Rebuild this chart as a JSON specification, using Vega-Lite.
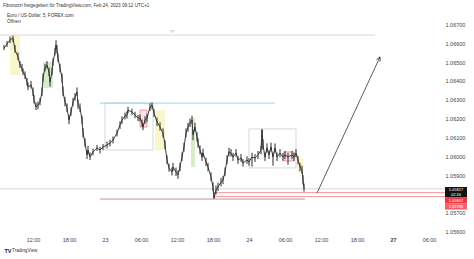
{
  "$schema": "https://vega.github.io/schema/vega-lite/v6.json",
  "width": 440,
  "height": 222,
  "autosize": {"type": "none"},
  "padding": {"left": 0, "top": 12, "right": 34, "bottom": 25},
  "background": "#ffffff",
  "config": {"view": {"stroke": null}, "font": "Liberation Sans"},
  "title": {"text": "Fibonozzi freigegeben für TradingView.com, Feb 24, 2023 09:12 UTC+1", "anchor": "start", "frame": "group", "fontSize": 4.6, "fontWeight": "normal", "color": "#333333", "offset": 4, "dx": 3},
  "resolve": {"scale": {"color": "independent"}},
  "datasets": {
    "candles": [
      {"t":"2023-02-22T07:10Z","hi":1.06590,"lo":1.06563,"p":1.06574},
      {"t":"2023-02-22T07:40Z","hi":1.06612,"lo":1.06580,"p":1.06595},
      {"t":"2023-02-22T08:10Z","hi":1.06635,"lo":1.06600,"p":1.06617},
      {"t":"2023-02-22T08:40Z","hi":1.06640,"lo":1.06605,"p":1.06627},
      {"t":"2023-02-22T09:00Z","hi":1.06590,"lo":1.06548,"p":1.06564},
      {"t":"2023-02-22T09:30Z","hi":1.06550,"lo":1.06510,"p":1.06527},
      {"t":"2023-02-22T09:50Z","hi":1.06505,"lo":1.06468,"p":1.06484},
      {"t":"2023-02-22T10:10Z","hi":1.06490,"lo":1.06450,"p":1.06468},
      {"t":"2023-02-22T10:20Z","hi":1.06465,"lo":1.06430,"p":1.06447},
      {"t":"2023-02-22T10:40Z","hi":1.06450,"lo":1.06410,"p":1.06431},
      {"t":"2023-02-22T11:00Z","hi":1.06415,"lo":1.06375,"p":1.06394},
      {"t":"2023-02-22T11:10Z","hi":1.06390,"lo":1.06350,"p":1.06367},
      {"t":"2023-02-22T11:40Z","hi":1.06400,"lo":1.06360,"p":1.06378},
      {"t":"2023-02-22T12:00Z","hi":1.06365,"lo":1.06320,"p":1.06341},
      {"t":"2023-02-22T12:10Z","hi":1.06325,"lo":1.06280,"p":1.06298},
      {"t":"2023-02-22T12:30Z","hi":1.06285,"lo":1.06245,"p":1.06261},
      {"t":"2023-02-22T12:50Z","hi":1.06290,"lo":1.06250,"p":1.06272},
      {"t":"2023-02-22T13:10Z","hi":1.06310,"lo":1.06270,"p":1.06288},
      {"t":"2023-02-22T13:30Z","hi":1.06365,"lo":1.06320,"p":1.06341},
      {"t":"2023-02-22T13:40Z","hi":1.06440,"lo":1.06395,"p":1.06415},
      {"t":"2023-02-22T14:00Z","hi":1.06490,"lo":1.06450,"p":1.06468},
      {"t":"2023-02-22T14:20Z","hi":1.06505,"lo":1.06465,"p":1.06484},
      {"t":"2023-02-22T14:40Z","hi":1.06470,"lo":1.06425,"p":1.06447},
      {"t":"2023-02-22T14:50Z","hi":1.06420,"lo":1.06370,"p":1.06394},
      {"t":"2023-02-22T15:10Z","hi":1.06470,"lo":1.06430,"p":1.06447},
      {"t":"2023-02-22T15:20Z","hi":1.06520,"lo":1.06480,"p":1.06500},
      {"t":"2023-02-22T15:40Z","hi":1.06575,"lo":1.06535,"p":1.06553},
      {"t":"2023-02-22T15:50Z","hi":1.06615,"lo":1.06570,"p":1.06590},
      {"t":"2023-02-22T16:00Z","hi":1.06590,"lo":1.06545,"p":1.06564},
      {"t":"2023-02-22T16:10Z","hi":1.06545,"lo":1.06500,"p":1.06521},
      {"t":"2023-02-22T16:30Z","hi":1.06490,"lo":1.06445,"p":1.06468},
      {"t":"2023-02-22T16:50Z","hi":1.06440,"lo":1.06390,"p":1.06415},
      {"t":"2023-02-22T17:00Z","hi":1.06370,"lo":1.06320,"p":1.06341},
      {"t":"2023-02-22T17:20Z","hi":1.06315,"lo":1.06265,"p":1.06288},
      {"t":"2023-02-22T17:40Z","hi":1.06280,"lo":1.06235,"p":1.06256},
      {"t":"2023-02-22T18:00Z","hi":1.06220,"lo":1.06170,"p":1.06192},
      {"t":"2023-02-22T18:20Z","hi":1.06260,"lo":1.06215,"p":1.06235},
      {"t":"2023-02-22T18:40Z","hi":1.06310,"lo":1.06265,"p":1.06288},
      {"t":"2023-02-22T19:00Z","hi":1.06335,"lo":1.06295,"p":1.06314},
      {"t":"2023-02-22T19:20Z","hi":1.06365,"lo":1.06320,"p":1.06341},
      {"t":"2023-02-22T19:30Z","hi":1.06300,"lo":1.06250,"p":1.06272},
      {"t":"2023-02-22T19:50Z","hi":1.06280,"lo":1.06235,"p":1.06256},
      {"t":"2023-02-22T20:10Z","hi":1.06215,"lo":1.06170,"p":1.06192},
      {"t":"2023-02-22T20:20Z","hi":1.06150,"lo":1.06100,"p":1.06123},
      {"t":"2023-02-22T20:40Z","hi":1.06095,"lo":1.06050,"p":1.06070},
      {"t":"2023-02-22T21:00Z","hi":1.06030,"lo":1.05985,"p":1.06007},
      {"t":"2023-02-22T21:10Z","hi":1.06055,"lo":1.06010,"p":1.06033},
      {"t":"2023-02-22T21:30Z","hi":1.06020,"lo":1.05980,"p":1.05996},
      {"t":"2023-02-22T22:00Z","hi":1.06040,"lo":1.06005,"p":1.06023},
      {"t":"2023-02-22T22:40Z","hi":1.06060,"lo":1.06028,"p":1.06044},
      {"t":"2023-02-22T23:10Z","hi":1.06050,"lo":1.06015,"p":1.06033},
      {"t":"2023-02-22T23:40Z","hi":1.06065,"lo":1.06032,"p":1.06049},
      {"t":"2023-02-23T00:20Z","hi":1.06078,"lo":1.06042,"p":1.06060},
      {"t":"2023-02-23T00:50Z","hi":1.06088,"lo":1.06052,"p":1.06070},
      {"t":"2023-02-23T01:20Z","hi":1.06105,"lo":1.06068,"p":1.06086},
      {"t":"2023-02-23T02:00Z","hi":1.06142,"lo":1.06105,"p":1.06123},
      {"t":"2023-02-23T02:30Z","hi":1.06185,"lo":1.06145,"p":1.06166},
      {"t":"2023-02-23T02:50Z","hi":1.06212,"lo":1.06172,"p":1.06192},
      {"t":"2023-02-23T03:20Z","hi":1.06232,"lo":1.06195,"p":1.06214},
      {"t":"2023-02-23T03:40Z","hi":1.06238,"lo":1.06200,"p":1.06219},
      {"t":"2023-02-23T03:50Z","hi":1.06262,"lo":1.06228,"p":1.06245},
      {"t":"2023-02-23T04:30Z","hi":1.06252,"lo":1.06218,"p":1.06235},
      {"t":"2023-02-23T05:00Z","hi":1.06236,"lo":1.06202,"p":1.06219},
      {"t":"2023-02-23T05:30Z","hi":1.06220,"lo":1.06186,"p":1.06203},
      {"t":"2023-02-23T05:50Z","hi":1.06222,"lo":1.06185,"p":1.06203},
      {"t":"2023-02-23T06:10Z","hi":1.06195,"lo":1.06158,"p":1.06176},
      {"t":"2023-02-23T06:20Z","hi":1.06175,"lo":1.06138,"p":1.06155},
      {"t":"2023-02-23T06:40Z","hi":1.06212,"lo":1.06172,"p":1.06192},
      {"t":"2023-02-23T07:00Z","hi":1.06225,"lo":1.06182,"p":1.06203},
      {"t":"2023-02-23T07:30Z","hi":1.06280,"lo":1.06240,"p":1.06261},
      {"t":"2023-02-23T07:50Z","hi":1.06285,"lo":1.06250,"p":1.06272},
      {"t":"2023-02-23T08:10Z","hi":1.06250,"lo":1.06208,"p":1.06229},
      {"t":"2023-02-23T08:40Z","hi":1.06205,"lo":1.06160,"p":1.06182},
      {"t":"2023-02-23T09:10Z","hi":1.06180,"lo":1.06135,"p":1.06155},
      {"t":"2023-02-23T09:40Z","hi":1.06148,"lo":1.06100,"p":1.06123},
      {"t":"2023-02-23T10:00Z","hi":1.06085,"lo":1.06038,"p":1.06060},
      {"t":"2023-02-23T10:20Z","hi":1.06005,"lo":1.05958,"p":1.05980},
      {"t":"2023-02-23T10:40Z","hi":1.05960,"lo":1.05918,"p":1.05938},
      {"t":"2023-02-23T11:10Z","hi":1.05940,"lo":1.05898,"p":1.05917},
      {"t":"2023-02-23T11:20Z","hi":1.05965,"lo":1.05922,"p":1.05943},
      {"t":"2023-02-23T11:50Z","hi":1.05940,"lo":1.05895,"p":1.05917},
      {"t":"2023-02-23T12:10Z","hi":1.05925,"lo":1.05880,"p":1.05901},
      {"t":"2023-02-23T12:30Z","hi":1.05965,"lo":1.05920,"p":1.05943},
      {"t":"2023-02-23T12:50Z","hi":1.06020,"lo":1.05975,"p":1.05996},
      {"t":"2023-02-23T13:10Z","hi":1.06072,"lo":1.06025,"p":1.06049},
      {"t":"2023-02-23T13:30Z","hi":1.06148,"lo":1.06100,"p":1.06123},
      {"t":"2023-02-23T13:50Z","hi":1.06178,"lo":1.06130,"p":1.06155},
      {"t":"2023-02-23T14:10Z","hi":1.06200,"lo":1.06155,"p":1.06176},
      {"t":"2023-02-23T14:30Z","hi":1.06215,"lo":1.06170,"p":1.06192},
      {"t":"2023-02-23T14:40Z","hi":1.06140,"lo":1.06085,"p":1.06113},
      {"t":"2023-02-23T15:00Z","hi":1.06178,"lo":1.06130,"p":1.06155},
      {"t":"2023-02-23T15:20Z","hi":1.06128,"lo":1.06078,"p":1.06102},
      {"t":"2023-02-23T15:30Z","hi":1.06095,"lo":1.06045,"p":1.06070},
      {"t":"2023-02-23T15:50Z","hi":1.06058,"lo":1.06010,"p":1.06033},
      {"t":"2023-02-23T16:10Z","hi":1.06020,"lo":1.05975,"p":1.05996},
      {"t":"2023-02-23T16:20Z","hi":1.06040,"lo":1.05995,"p":1.06017},
      {"t":"2023-02-23T16:50Z","hi":1.05992,"lo":1.05948,"p":1.05970},
      {"t":"2023-02-23T17:10Z","hi":1.05965,"lo":1.05920,"p":1.05943},
      {"t":"2023-02-23T17:40Z","hi":1.05915,"lo":1.05868,"p":1.05890},
      {"t":"2023-02-23T18:00Z","hi":1.05862,"lo":1.05815,"p":1.05837},
      {"t":"2023-02-23T18:10Z","hi":1.05810,"lo":1.05774,"p":1.05779},
      {"t":"2023-02-23T18:30Z","hi":1.05845,"lo":1.05798,"p":1.05821},
      {"t":"2023-02-23T18:50Z","hi":1.05860,"lo":1.05815,"p":1.05837},
      {"t":"2023-02-23T19:20Z","hi":1.05885,"lo":1.05840,"p":1.05863},
      {"t":"2023-02-23T19:40Z","hi":1.05895,"lo":1.05852,"p":1.05874},
      {"t":"2023-02-23T20:00Z","hi":1.05940,"lo":1.05895,"p":1.05917},
      {"t":"2023-02-23T20:20Z","hi":1.06005,"lo":1.05958,"p":1.05980},
      {"t":"2023-02-23T20:40Z","hi":1.06045,"lo":1.06000,"p":1.06023},
      {"t":"2023-02-23T21:00Z","hi":1.06038,"lo":1.05998,"p":1.06017},
      {"t":"2023-02-23T21:20Z","hi":1.06018,"lo":1.05975,"p":1.05996},
      {"t":"2023-02-23T21:50Z","hi":1.06038,"lo":1.05998,"p":1.06017},
      {"t":"2023-02-23T22:10Z","hi":1.06002,"lo":1.05960,"p":1.05980},
      {"t":"2023-02-23T22:40Z","hi":1.06012,"lo":1.05970,"p":1.05991},
      {"t":"2023-02-23T23:00Z","hi":1.05985,"lo":1.05945,"p":1.05964},
      {"t":"2023-02-23T23:40Z","hi":1.06000,"lo":1.05960,"p":1.05980},
      {"t":"2023-02-24T00:00Z","hi":1.05990,"lo":1.05950,"p":1.05970},
      {"t":"2023-02-24T00:30Z","hi":1.06018,"lo":1.05945,"p":1.05996},
      {"t":"2023-02-24T01:00Z","hi":1.06012,"lo":1.05970,"p":1.05991},
      {"t":"2023-02-24T01:30Z","hi":1.06028,"lo":1.05985,"p":1.06007},
      {"t":"2023-02-24T02:00Z","hi":1.06055,"lo":1.06010,"p":1.06033},
      {"t":"2023-02-24T02:10Z","hi":1.06145,"lo":1.06040,"p":1.06139},
      {"t":"2023-02-24T02:20Z","hi":1.06090,"lo":1.06035,"p":1.06060},
      {"t":"2023-02-24T02:40Z","hi":1.06020,"lo":1.05975,"p":1.05996},
      {"t":"2023-02-24T03:00Z","hi":1.06068,"lo":1.06020,"p":1.06044},
      {"t":"2023-02-24T03:20Z","hi":1.06030,"lo":1.05985,"p":1.06007},
      {"t":"2023-02-24T03:40Z","hi":1.06072,"lo":1.06025,"p":1.06049},
      {"t":"2023-02-24T04:00Z","hi":1.06020,"lo":1.05950,"p":1.05996},
      {"t":"2023-02-24T04:20Z","hi":1.06068,"lo":1.06020,"p":1.06044},
      {"t":"2023-02-24T04:40Z","hi":1.06020,"lo":1.05975,"p":1.05996},
      {"t":"2023-02-24T05:10Z","hi":1.06038,"lo":1.05995,"p":1.06017},
      {"t":"2023-02-24T05:40Z","hi":1.06018,"lo":1.05975,"p":1.05996},
      {"t":"2023-02-24T06:00Z","hi":1.06028,"lo":1.05985,"p":1.06007},
      {"t":"2023-02-24T06:30Z","hi":1.06018,"lo":1.05955,"p":1.05996},
      {"t":"2023-02-24T07:10Z","hi":1.06028,"lo":1.05985,"p":1.06007},
      {"t":"2023-02-24T07:30Z","hi":1.06018,"lo":1.05975,"p":1.05996},
      {"t":"2023-02-24T07:50Z","hi":1.06038,"lo":1.05995,"p":1.06017},
      {"t":"2023-02-24T08:10Z","hi":1.06002,"lo":1.05958,"p":1.05980},
      {"t":"2023-02-24T08:30Z","hi":1.05965,"lo":1.05920,"p":1.05943},
      {"t":"2023-02-24T08:50Z","hi":1.05950,"lo":1.05905,"p":1.05927},
      {"t":"2023-02-24T09:00Z","hi":1.05900,"lo":1.05850,"p":1.05874},
      {"t":"2023-02-24T09:10Z","hi":1.05855,"lo":1.05812,"p":1.05827}
    ],
    "highlights": [
      {"t":"2023-02-22T08:10Z","t2":"2023-02-22T09:50Z","p":1.06638,"p2":1.06431,"kind":"yellow"},
      {"t":"2023-02-22T13:40Z","t2":"2023-02-22T15:20Z","p":1.06500,"p2":1.06362,"kind":"green"},
      {"t":"2023-02-23T08:20Z","t2":"2023-02-23T10:00Z","p":1.06245,"p2":1.06033,"kind":"yellow"},
      {"t":"2023-02-23T14:20Z","t2":"2023-02-23T15:00Z","p":1.06203,"p2":1.05943,"kind":"green"},
      {"t":"2023-02-24T08:00Z","t2":"2023-02-24T09:00Z","p":1.05991,"p2":1.05917,"kind":"yellow"}
    ],
    "ranges": [
      {"t":"2023-02-23T00:00Z","t2":"2023-02-23T08:00Z","p":1.06282,"p2":1.06033},
      {"t":"2023-02-24T00:00Z","t2":"2023-02-24T07:50Z","p":1.06145,"p2":1.05938}
    ],
    "redboxes": [
      {"t":"2023-02-23T05:50Z","t2":"2023-02-23T07:00Z","p":1.06245,"p2":1.06155},
      {"t":"2023-02-24T05:50Z","t2":"2023-02-24T07:30Z","p":1.06023,"p2":1.05975}
    ],
    "hlines": [
      {"t":"2023-02-22T06:30Z","t2":"2023-02-24T21:00Z","p":1.06643,"kind":"tp"},
      {"t":"2023-02-22T23:10Z","t2":"2023-02-24T04:20Z","p":1.06282,"kind":"blue"},
      {"t":"2023-02-22T06:30Z","t2":"2023-02-25T08:40Z","p":1.05827,"kind":"last"},
      {"t":"2023-02-22T23:10Z","t2":"2023-02-24T09:20Z","p":1.05773,"kind":"purple"},
      {"t":"2023-02-23T18:20Z","t2":"2023-02-25T08:40Z","p":1.05807,"kind":"red"},
      {"t":"2023-02-23T18:20Z","t2":"2023-02-25T08:40Z","p":1.05786,"kind":"red"}
    ],
    "arrow": [
      {"t":"2023-02-24T11:20Z","p":1.05805},
      {"t":"2023-02-24T21:50Z","p":1.06527}
    ],
    "arrowhead": [
      {"t":"2023-02-24T21:50Z","p":1.06527}
    ],
    "tags": [
      {"t":"2023-02-25T08:40Z","t2":"2023-02-25T12:20Z","p":1.05837,"p2":1.05781,"kind":"black"},
      {"t":"2023-02-25T08:40Z","t2":"2023-02-25T12:20Z","p":1.05781,"p2":1.05749,"kind":"red"},
      {"t":"2023-02-25T08:40Z","t2":"2023-02-25T12:20Z","p":1.05749,"p2":1.05717,"kind":"pink"}
    ],
    "tagtext": [
      {"t":"2023-02-25T10:30Z","p":1.05823,"label":"1.05827"},
      {"t":"2023-02-25T10:30Z","p":1.05794,"label":"02:16"},
      {"t":"2023-02-25T10:30Z","p":1.05765,"label":"1.05807"},
      {"t":"2023-02-25T10:30Z","p":1.05733,"label":"1.05786"}
    ],
    "notes": [
      {"t":"2023-02-22T07:40Z","p":1.06744,"label":"Euro / US-Dollar, 5, FOREX.com"},
      {"t":"2023-02-22T07:40Z","p":1.06710,"label":"Öffnen"},
      {"t":"2023-02-22T08:30Z","p":1.05495,"label":"TradingView"}
    ],
    "tplabel": [
      {"t":"2023-02-23T11:10Z","p":1.06657,"label":"TP"}
    ],
    "logo": [
      {"t":"2023-02-22T07:15Z","p":1.05495,"label":"TV"}
    ]
  },
  "encoding": {
    "x": {
      "field": "t", "type": "temporal",
      "scale": {"type": "utc", "domain": [{"year":2023,"month":2,"date":22,"hours":6,"minutes":30,"utc":true},{"year":2023,"month":2,"date":25,"hours":7,"minutes":50,"utc":true}]},
      "axis": {
        "title": null, "ticks": false, "domain": false, "grid": false,
        "values": [
          {"year":2023,"month":2,"date":22,"hours":12,"utc":true},
          {"year":2023,"month":2,"date":22,"hours":18,"utc":true},
          {"year":2023,"month":2,"date":23,"hours":0,"utc":true},
          {"year":2023,"month":2,"date":23,"hours":6,"utc":true},
          {"year":2023,"month":2,"date":23,"hours":12,"utc":true},
          {"year":2023,"month":2,"date":23,"hours":18,"utc":true},
          {"year":2023,"month":2,"date":24,"hours":0,"utc":true},
          {"year":2023,"month":2,"date":24,"hours":6,"utc":true},
          {"year":2023,"month":2,"date":24,"hours":12,"utc":true},
          {"year":2023,"month":2,"date":24,"hours":18,"utc":true},
          {"year":2023,"month":2,"date":25,"hours":0,"utc":true},
          {"year":2023,"month":2,"date":25,"hours":6,"utc":true}
        ],
        "labelExpr": "utchours(datum.value) == 0 ? (utcdate(datum.value) == 25 ? '27' : utcFormat(datum.value, '%-d')) : utcFormat(datum.value, '%H:%M')",
        "labelFontSize": 5.5, "labelColor": "#444444", "labelPadding": 3, "labelFlush": false, "labelOverlap": false,
        "labelFontWeight": {"condition": {"test": "utcdate(datum.value) == 25 && utchours(datum.value) == 0", "value": "bold"}, "value": "normal"}
      }
    },
    "y": {
      "field": "p", "type": "quantitative",
      "scale": {"domain": [1.055875, 1.067653], "nice": false, "zero": false},
      "axis": {
        "orient": "right", "title": null, "ticks": false, "domain": false, "grid": false,
        "values": [1.056, 1.057, 1.059, 1.06, 1.061, 1.062, 1.063, 1.064, 1.065, 1.066, 1.067],
        "format": ".5f", "labelFontSize": 5.5, "labelColor": "#444444", "labelPadding": 5
      }
    }
  },
  "layer": [
    {
      "data": {"name": "highlights"},
      "mark": {"type": "rect", "opacity": 0.35},
      "encoding": {
        "x2": {"field": "t2"}, "y2": {"field": "p2"},
        "color": {"field": "kind", "type": "nominal", "scale": {"domain": ["yellow", "green"], "range": ["#f3e36b", "#8fc56a"]}, "legend": null}
      }
    },
    {
      "data": {"name": "ranges"},
      "mark": {"type": "rect", "fillOpacity": 0, "stroke": "#bdbdbd", "strokeWidth": 0.6},
      "encoding": {"x2": {"field": "t2"}, "y2": {"field": "p2"}}
    },
    {
      "data": {"name": "redboxes"},
      "mark": {"type": "rect", "fill": "#f7c6cc", "fillOpacity": 0.5, "stroke": "#e06a76", "strokeWidth": 0.6},
      "encoding": {"x2": {"field": "t2"}, "y2": {"field": "p2"}}
    },
    {
      "data": {"name": "hlines"},
      "mark": {"type": "rule", "strokeWidth": 0.8},
      "encoding": {
        "x2": {"field": "t2"},
        "color": {"field": "kind", "type": "nominal", "scale": {"domain": ["tp", "blue", "last", "purple", "red"], "range": ["#cccccc", "#7ccde6", "#c9c9c9", "#b3708e", "#f07c86"]}, "legend": null}
      }
    },
    {
      "data": {"name": "candles"},
      "mark": {"type": "rule", "color": "#2b2b2b", "strokeWidth": 1},
      "encoding": {"y": {"field": "hi", "type": "quantitative", "title": null}, "y2": {"field": "lo"}}
    },
    {
      "data": {"name": "candles"},
      "mark": {"type": "line", "color": "#2b2b2b", "strokeWidth": 0.9}
    },
    {
      "data": {"name": "arrow"},
      "mark": {"type": "line", "color": "#333333", "strokeWidth": 0.8},
      "encoding": {}
    },
    {
      "data": {"name": "arrowhead"},
      "mark": {"type": "point", "shape": "M -0.5 1 L 0 0 L 0.5 1", "angle": 25, "size": 64, "filled": false, "stroke": "#333333", "strokeWidth": 0.8, "opacity": 1}
    },
    {
      "data": {"name": "tags"},
      "mark": {"type": "rect"},
      "encoding": {
        "x2": {"field": "t2"}, "y2": {"field": "p2"},
        "color": {"field": "kind", "type": "nominal", "scale": {"domain": ["black", "red", "pink"], "range": ["#131313", "#f23645", "#f5606d"]}, "legend": null}
      }
    },
    {
      "data": {"name": "tagtext"},
      "mark": {"type": "text", "color": "#ffffff", "fontSize": 4, "align": "center", "baseline": "middle"},
      "encoding": {"text": {"field": "label"}}
    },
    {
      "data": {"name": "notes"},
      "mark": {"type": "text", "color": "#333333", "fontSize": 4.6, "align": "left", "baseline": "middle"},
      "encoding": {"text": {"field": "label"}}
    },
    {
      "data": {"name": "tplabel"},
      "mark": {"type": "text", "color": "#aaaaaa", "fontSize": 3.6, "align": "center", "baseline": "middle"},
      "encoding": {"text": {"field": "label"}}
    },
    {
      "data": {"name": "logo"},
      "mark": {"type": "text", "color": "#131722", "fontSize": 5.5, "fontWeight": "bold", "align": "left", "baseline": "middle"},
      "encoding": {"text": {"field": "label"}}
    }
  ]
}
